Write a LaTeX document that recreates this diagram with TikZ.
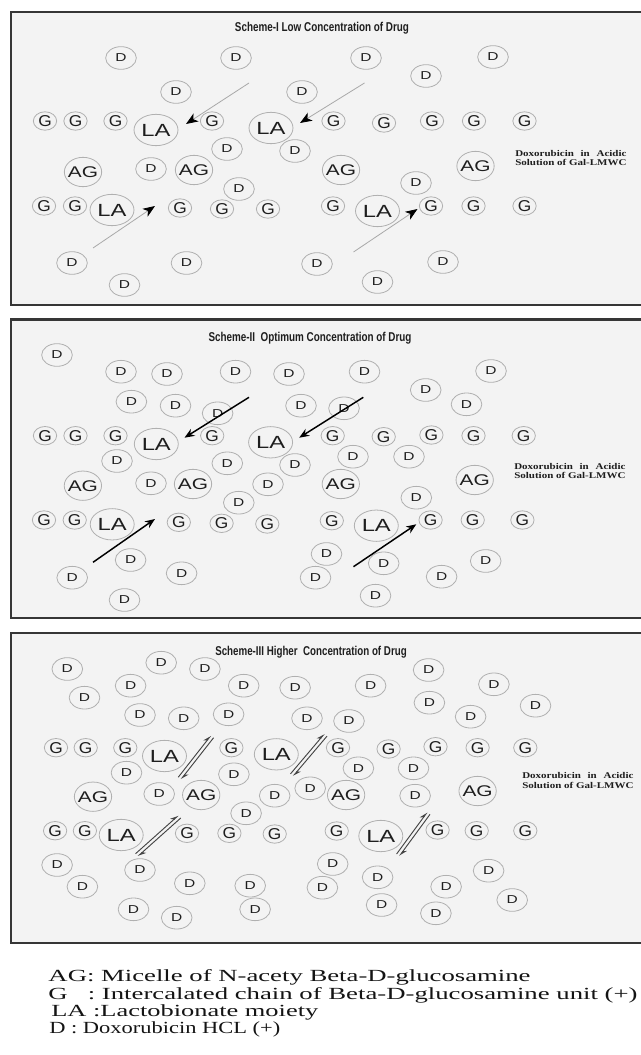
\documentclass[tikz,border=0pt]{standalone}
\usepackage{fontspec}
\usepackage{graphicx}
\setmainfont{Liberation Serif}
\newfontfamily\molfont[FakeStretch=1.35]{Liberation Sans}
\newfontfamily\molfontg[FakeStretch=1.1]{Liberation Sans}
\newfontfamily\titlefont{Liberation Sans}
\newfontfamily\doxfont[FakeStretch=1.25]{Liberation Serif}
\usetikzlibrary{shapes.geometric,arrows.meta,calc}

\definecolor{panelfill}{HTML}{F3F3F3}
\definecolor{panelborder}{HTML}{363636}
\definecolor{ringgray}{HTML}{B0B0B0}
\definecolor{moltext}{HTML}{1E1E1E}
\definecolor{lightline}{HTML}{A8A8A8}
\definecolor{eqgray}{HTML}{444444}

\newcommand\molD[2]{\node[dmol] (#1) at (#2) {\makebox[0pt]{D}};}
\newcommand\molG[2]{\node[gmol] (#1) at (#2) {\makebox[0pt]{G}};}
\newcommand\molLA[2]{\node[lamol] (#1) at (#2) {\makebox[0pt]{LA}};}
\newcommand\molAG[2]{\node[agmol] (#1) at (#2) {\makebox[0pt]{AG}};}

\newsavebox\doxsave
\newcommand\doxlabel{%
  \sbox\doxsave{Solution of Gal-LMWC}%
  \vbox{\hbox to \wd\doxsave{Doxorubicin\hfill in\hfill Acidic}\hbox{\usebox\doxsave}}}

\begin{document}
\begin{tikzpicture}[x=0.75pt,y=-0.75pt,
  mol/.style={ellipse,draw=ringgray,line width=0.6pt,inner sep=0pt,text=moltext},
  dmol/.style={mol,minimum width=23pt,minimum height=17pt,font=\molfont\fontsize{8.6}{9}\selectfont},
  gmol/.style={mol,minimum width=17.5pt,minimum height=13.8pt,font=\molfontg\fontsize{11.8}{12}\selectfont},
  lamol/.style={mol,minimum width=33pt,minimum height=23.5pt,font=\molfont\fontsize{13.2}{14}\selectfont},
  agmol/.style={mol,minimum width=28pt,minimum height=22pt,font=\molfont\fontsize{11.6}{12}\selectfont},
  panel/.style={draw=panelborder,line width=1.7pt,fill=panelfill},
  schemetitle/.style={anchor=base,inner sep=0pt,text=moltext,font=\titlefont\bfseries\fontsize{9.6}{10}\selectfont},
  doxnote/.style={anchor=base west,inner sep=0pt,text=moltext,font=\doxfont\bfseries\fontsize{6.6}{7}\selectfont},
  legendline/.style={anchor=base west,inner sep=0pt,text=black!92,font=\fontsize{12.75}{14}\selectfont},
  lowarrow/.style={draw=lightline,line width=0.6pt,-{Stealth[length=9pt,width=7pt,inset=2.5pt,color=black]}},
  optarrow/.style={draw=black,line width=1.1pt,-{Stealth[length=7.5pt,width=6pt]}},
  eqarrow/.style={draw=eqgray,line width=0.7pt,-{Stealth[harpoon,length=5.5pt,width=4.5pt]}},
]
\useasboundingbox (0,0) rectangle (640,1055);
\fill[white] (0,0) rectangle (640,1055);

% ---------------- panels ----------------
\draw[panel] (11,12) rectangle (660,305);
\draw[panel] (11,319.5) rectangle (660,618);
\draw[panel] (11,633) rectangle (660,943);

\node[schemetitle] (t1) at (322,31.7) {\resizebox{130.5pt}{\height}{Scheme-I Low Concentration of Drug}};
\node[schemetitle] (t2) at (310,341) {\resizebox{152.25pt}{\height}{Scheme-II\ \ Optimum Concentration of Drug}};
\node[schemetitle] (t3) at (311,655) {\resizebox{143.6pt}{\height}{Scheme-III Higher\ \ Concentration of Drug}};

% ---------------- Scheme I ----------------
\molD{a-d1}{121,58}
\molD{a-d2}{236,58}
\molD{a-d3}{366,58}
\molD{a-d4}{493,57}
\molD{a-d5}{426,76}
\molD{a-d6}{176,92}
\molD{a-d7}{302,92}
\molD{a-d8}{227,149}
\molD{a-d9}{295,151}
\molD{a-d10}{151,169}
\molD{a-d11}{416,183}
\molD{a-d12}{239,189}
\molD{a-d13}{72,263}
\molD{a-d14}{186.5,263}
\molD{a-d15}{124.5,285}
\molD{a-d16}{317,264}
\molD{a-d17}{443,262}
\molD{a-d18}{377.5,282}
\molG{a-g1}{45,121}
\molG{a-g2}{75.5,121}
\molG{a-g3}{115.5,121}
\molG{a-g4}{212,121}
\molG{a-g5}{333.5,121}
\molG{a-g6}{384,123}
\molG{a-g7}{432,121}
\molG{a-g8}{474,121}
\molG{a-g9}{524.5,121}
\molG{a-g10}{44,206}
\molG{a-g11}{75,206}
\molG{a-g12}{180,208}
\molG{a-g13}{222,209}
\molG{a-g14}{268,209}
\molG{a-g15}{333,206}
\molG{a-g16}{431,206}
\molG{a-g17}{473.5,206}
\molG{a-g18}{524.5,206}
\molLA{a-la1}{156,130}
\molLA{a-la2}{271,128}
\molLA{a-la3}{112,210}
\molLA{a-la4}{377.5,211}
\molAG{a-ag1}{83,172}
\molAG{a-ag2}{194,170}
\molAG{a-ag3}{341,170}
\molAG{a-ag4}{475.5,166}
\coordinate (a-s1) at (249,83);   \coordinate (a-e1) at (186,124);
\coordinate (a-s2) at (364.5,83); \coordinate (a-e2) at (300,123);
\coordinate (a-s3) at (93,248);   \coordinate (a-e3) at (155,206);
\coordinate (a-s4) at (353.5,252);\coordinate (a-e4) at (417.5,209);
\draw[lowarrow] (a-s1) -- (a-e1);
\draw[lowarrow] (a-s2) -- (a-e2);
\draw[lowarrow] (a-s3) -- (a-e3);
\draw[lowarrow] (a-s4) -- (a-e4);
\node[doxnote] (a-dox) at (515,166) {\doxlabel};

% ---------------- Scheme II ----------------
\molD{b-d1}{57,355}
\molD{b-d2}{121,371.7}
\molD{b-d3}{167,374}
\molD{b-d4}{235.5,371.7}
\molD{b-d5}{289,374}
\molD{b-d6}{364.5,371.7}
\molD{b-d7}{491,371}
\molD{b-d8}{425.7,390}
\molD{b-d9}{131.4,401.7}
\molD{b-d10}{175.5,405.7}
\molD{b-d11}{217.6,413.3}
\molD{b-d12}{301,405.7}
\molD{b-d13}{344,408.3}
\molD{b-d14}{466.5,404.3}
\molD{b-d15}{117,461}
\molD{b-d16}{227.3,463.3}
\molD{b-d17}{295,465}
\molD{b-d18}{353,456.7}
\molD{b-d19}{409,456.7}
\molD{b-d20}{151,483.3}
\molD{b-d21}{268,484.3}
\molD{b-d22}{416.3,497.7}
\molD{b-d23}{238.8,502.7}
\molD{b-d24}{130.6,560}
\molD{b-d25}{72.2,577.7}
\molD{b-d26}{181.6,573.3}
\molD{b-d27}{124.5,600}
\molD{b-d28}{326.5,554}
\molD{b-d29}{383.7,563.3}
\molD{b-d30}{315.5,577.7}
\molD{b-d31}{485.7,561}
\molD{b-d32}{441.6,576.7}
\molD{b-d33}{375.5,595.7}
\molG{b-g1}{45,435.7}
\molG{b-g2}{75.5,435.7}
\molG{b-g3}{115.5,435.7}
\molG{b-g4}{212.2,435.7}
\molG{b-g5}{332.7,435.7}
\molG{b-g6}{383.7,436.7}
\molG{b-g7}{431.4,435}
\molG{b-g8}{473.5,435.7}
\molG{b-g9}{523.7,435.7}
\molG{b-g10}{44,520}
\molG{b-g11}{74.7,520}
\molG{b-g12}{178.8,522.3}
\molG{b-g13}{221.6,523.3}
\molG{b-g14}{267.3,524}
\molG{b-g15}{331.8,520.7}
\molG{b-g16}{430.6,520}
\molG{b-g17}{472.7,520}
\molG{b-g18}{522.4,520}
\molLA{b-la1}{156.3,444}
\molLA{b-la2}{270.6,442.3}
\molLA{b-la3}{112.2,524.3}
\molLA{b-la4}{376.3,525.7}
\molAG{b-ag1}{82.9,485.7}
\molAG{b-ag2}{193,484}
\molAG{b-ag3}{340.8,484}
\molAG{b-ag4}{474.7,480}
\coordinate (b-s1) at (249,397.3);   \coordinate (b-e1) at (184.5,437.7);
\coordinate (b-s2) at (363.3,397.3); \coordinate (b-e2) at (299.2,437.7);
\coordinate (b-s3) at (93,562.3);    \coordinate (b-e3) at (155,519);
\coordinate (b-s4) at (353.5,566.7); \coordinate (b-e4) at (416.3,524.3);
\draw[optarrow] (b-s1) -- (b-e1);
\draw[optarrow] (b-s2) -- (b-e2);
\draw[optarrow] (b-s3) -- (b-e3);
\draw[optarrow] (b-s4) -- (b-e4);
\node[doxnote] (b-dox) at (514,478.5) {\doxlabel};

% ---------------- Scheme III ----------------
\molD{c-d1}{67.3,669}
\molD{c-d2}{161.2,662.7}
\molD{c-d3}{204.9,669}
\molD{c-d4}{428.6,670}
\molD{c-d5}{130.6,685.7}
\molD{c-d6}{243.7,685.7}
\molD{c-d7}{295.1,687.7}
\molD{c-d8}{370.6,685.7}
\molD{c-d9}{493.9,684.3}
\molD{c-d10}{84.5,697.7}
\molD{c-d11}{429.4,702.7}
\molD{c-d12}{535.5,705.7}
\molD{c-d13}{140,715}
\molD{c-d14}{183.7,718.3}
\molD{c-d15}{228.6,714.3}
\molD{c-d16}{307,718.3}
\molD{c-d17}{349,721}
\molD{c-d18}{470.6,716.7}
\molD{c-d19}{126.5,772.7}
\molD{c-d20}{233.9,774.3}
\molD{c-d21}{358.4,768.3}
\molD{c-d22}{413.5,768.3}
\molD{c-d23}{159.2,794}
\molD{c-d24}{274.7,795.7}
\molD{c-d25}{310.2,788.3}
\molD{c-d26}{415.1,795.7}
\molD{c-d27}{246.1,813.3}
\molD{c-d28}{57.1,865}
\molD{c-d29}{140,870}
\molD{c-d30}{332.7,864}
\molD{c-d31}{488.6,870.7}
\molD{c-d32}{82.4,886.7}
\molD{c-d33}{189.8,883.3}
\molD{c-d34}{250.2,885.7}
\molD{c-d35}{322.4,887.7}
\molD{c-d36}{377.6,877.3}
\molD{c-d37}{446.1,886.7}
\molD{c-d38}{512.2,900}
\molD{c-d39}{133.5,909.3}
\molD{c-d40}{176.7,917.7}
\molD{c-d41}{255.1,909.3}
\molD{c-d42}{381.6,905}
\molD{c-d43}{435.9,913.3}
\molG{c-g1}{56,747.7}
\molG{c-g2}{85.7,747.7}
\molG{c-g3}{125.3,747.7}
\molG{c-g4}{231.4,747.7}
\molG{c-g5}{338,747.7}
\molG{c-g6}{388.6,749}
\molG{c-g7}{435.5,746.7}
\molG{c-g8}{477.6,747.7}
\molG{c-g9}{525.3,747.7}
\molG{c-g10}{55.1,830.7}
\molG{c-g11}{84.9,830.7}
\molG{c-g12}{187,833.3}
\molG{c-g13}{229.4,833.3}
\molG{c-g14}{274.7,834}
\molG{c-g15}{336.7,831}
\molG{c-g16}{437.6,830}
\molG{c-g17}{476.7,830.7}
\molG{c-g18}{525.3,830.7}
\molLA{c-la1}{164.5,756}
\molLA{c-la2}{276.3,754.3}
\molLA{c-la3}{121.2,835}
\molLA{c-la4}{380.8,836}
\molAG{c-ag1}{93,796.7}
\molAG{c-ag2}{201.2,795}
\molAG{c-ag3}{346.1,795}
\molAG{c-ag4}{477.6,791}
\coordinate (c-h1s) at (179.6,778.3); \coordinate (c-h1e) at (212.2,736.7);
\coordinate (c-h2s) at (291.8,775);   \coordinate (c-h2e) at (325.7,735);
\coordinate (c-h3s) at (136.7,855);   \coordinate (c-h3e) at (179.6,816.7);
\coordinate (c-h4s) at (398,855);     \coordinate (c-h4e) at (428.6,813.3);
\foreach \h in {1,2,3,4}{
  \draw[eqarrow] ($(c-h\h s)!1.3pt!90:(c-h\h e)$) -- ($(c-h\h e)!1.3pt!-90:(c-h\h s)$);
  \draw[eqarrow] ($(c-h\h e)!1.3pt!90:(c-h\h s)$) -- ($(c-h\h s)!1.3pt!-90:(c-h\h e)$);
}
\node[doxnote] (c-dox) at (522,788) {\doxlabel};

% ---------------- legend ----------------
\node[legendline] (l1) at (48.2,981) {\resizebox{361.5pt}{\height}{AG: Micelle of N-acety Beta-D-glucosamine}};
\node[legendline] (l2) at (48.2,999.5) {\resizebox{441.75pt}{\height}{G\ \ \ : Intercalated chain of Beta-D-glucosamine unit (+)}};
\node[legendline] (l3) at (51,1016.5) {\resizebox{200.25pt}{\height}{LA :Lactobionate moiety}};
\node[legendline] (l4) at (49,1033) {\resizebox{173.25pt}{\height}{D : Doxorubicin HCL (+)}};
\end{tikzpicture}
\end{document}
